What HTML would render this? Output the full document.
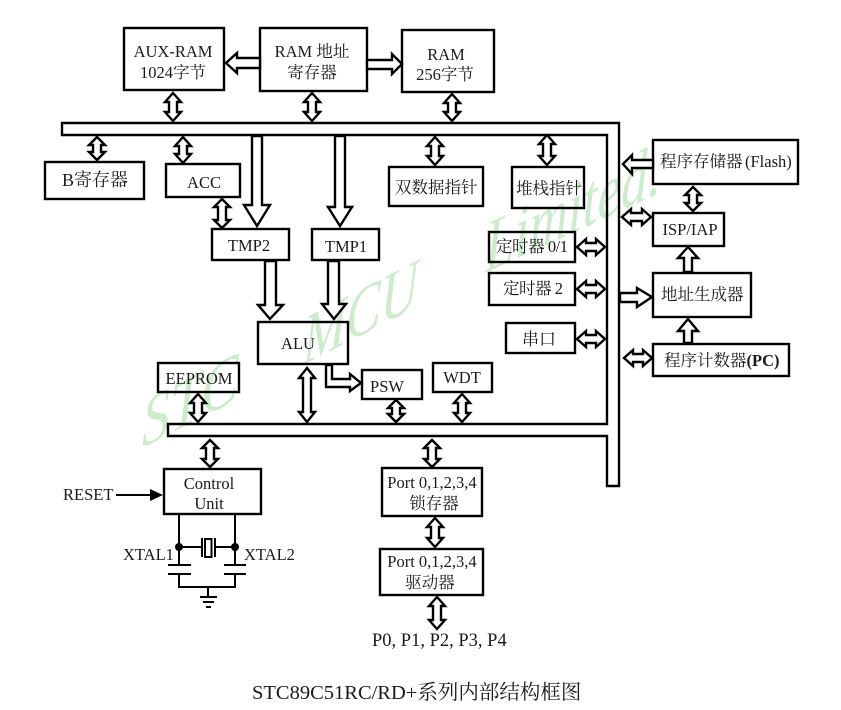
<!DOCTYPE html>
<html><head><meta charset="utf-8"><style>
html,body{margin:0;padding:0;background:#fff}
svg{display:block;filter:blur(.3px)}
text{font-family:"Liberation Serif","Noto Serif CJK SC",serif;font-size:16.5px;fill:#1a1a1a}
.b rect,.b polygon,.b polyline{fill:none;stroke:#000;stroke-width:2.4}
.a polygon{fill:#fff;stroke:#000;stroke-width:2.4}
.m{text-anchor:middle}
text.w{font-size:70px;font-style:italic;fill:#cdeccd}
</style></head><body>
<svg width="841" height="710" viewBox="0 0 841 710" xmlns="http://www.w3.org/2000/svg">
<rect width="841" height="710" fill="#fff"/>
<text class="w" transform="matrix(.8,-.41,0,1,142,448)">STC</text>
<text class="w" transform="matrix(.74,-.38,0,1,303,365)">MCU</text>
<text class="w" transform="matrix(.72,-.33,0,1,485,273)" style="font-size:74px">Limited.</text>

<g class="b">
<polygon points="62,123 619,123 619,486 607,486 607,436 168,436 168,424 607,424 607,135 62,135"/>
<rect x="124" y="28" width="100" height="62"/>
<rect x="260" y="28" width="107" height="63"/>
<rect x="402" y="30" width="92" height="62"/>
<rect x="45" y="162" width="99" height="37"/>
<rect x="166" y="164" width="74" height="33"/>
<rect x="389" y="167" width="94" height="39"/>
<rect x="512" y="167" width="72" height="41"/>
<rect x="212" y="229" width="77" height="31"/>
<rect x="312" y="229" width="67" height="31"/>
<rect x="489" y="232" width="86" height="30"/>
<rect x="489" y="273" width="86" height="32"/>
<rect x="506" y="323" width="69" height="30"/>
<rect x="258" y="322" width="90" height="42"/>
<rect x="158" y="363" width="81" height="29"/>
<rect x="362" y="370" width="60" height="29"/>
<rect x="433" y="363" width="59" height="29"/>
<rect x="653" y="140" width="145" height="44"/>
<rect x="653" y="213" width="71" height="33"/>
<rect x="653" y="273" width="98" height="44"/>
<rect x="653" y="344" width="136" height="32"/>
<rect x="164" y="469" width="97" height="45"/>
<rect x="382" y="468" width="100" height="48"/>
<rect x="380" y="549" width="103" height="46"/>
</g>

<g class="a">
<polygon points="173,93 181,102 177,102 177,112 181,112 173,121 165,112 169,112 169,102 165,102"/>
<polygon points="312,93 320,102 316,102 316,112 320,112 312,121 304,112 308,112 308,102 304,102"/>
<polygon points="452,94 460,103 456,103 456,112 460,112 452,121 444,112 448,112 448,103 444,103"/>
<polygon points="97,137 105,145 101,145 101,152 105,152 97,160 89,152 93,152 93,145 89,145"/>
<polygon points="183,137 191,146 187,146 187,154 191,154 183,163 175,154 179,154 179,146 175,146"/>
<polygon points="222,199 230,207 226,207 226,220 230,220 222,228 214,220 218,220 218,207 214,207"/>
<polygon points="435,137 443,146 439,146 439,156 443,156 435,165 427,156 431,156 431,146 427,146"/>
<polygon points="547,135 555,144 551,144 551,156 555,156 547,165 539,156 543,156 543,144 539,144"/>
<polygon points="693,187 701,195 697,195 697,203 701,203 693,211 685,203 689,203 689,195 685,195"/>
<polygon points="198,394 206,403 202,403 202,413 206,413 198,422 190,413 194,413 194,403 190,403"/>
<polygon points="307,368 315,378 311,378 311,412 315,412 307,422 299,412 303,412 303,378 299,378"/>
<polygon points="396,400 404,408 400,408 400,414 404,414 396,422 388,414 392,414 392,408 388,408"/>
<polygon points="462,394 470,403 466,403 466,413 470,413 462,422 454,413 458,413 458,403 454,403"/>
<polygon points="210,440 218,448 214,448 214,459 218,459 210,467 202,459 206,459 206,448 202,448"/>
<polygon points="432,440 440,448 436,448 436,459 440,459 432,467 424,459 428,459 428,448 424,448"/>
<polygon points="435,518 443,527 439,527 439,538 443,538 435,547 427,538 431,538 431,527 427,527"/>
<polygon points="437,597 445,606 441,606 441,620 445,620 437,629 429,620 433,620 433,606 429,606"/>
<polygon points="622,217 631,209 631,213 642,213 642,209 651,217 642,225 642,221 631,221 631,225"/>
<polygon points="577,247 586,239 586,243 596,243 596,239 605,247 596,255 596,251 586,251 586,255"/>
<polygon points="577,289 586,281 586,285 596,285 596,281 605,289 596,297 596,293 586,293 586,297"/>
<polygon points="577,339 586,331 586,335 596,335 596,331 605,339 596,347 596,343 586,343 586,347"/>
<polygon points="624,358 633,350 633,354 643,354 643,350 652,358 643,366 643,362 633,362 633,366"/>
<!-- single arrows -->
<polygon points="260,58 237,58 237,53 226,63 237,73 237,68 260,68"/>
<polygon points="367,60 392,60 392,54 402,64 392,74 392,69 367,69"/>
<polygon points="252,136 252,205 244,205 257,226 270,205 262,205 262,136"/>
<polygon points="335,136 335,207 328,207 340,226 352,207 345,207 345,136"/>
<polygon points="265,261 265,305 258,305 270,319 283,305 276,305 276,261"/>
<polygon points="328,261 328,304 322,304 334,319 346,304 339,304 339,261"/>
<polygon points="326,365 326,387 350,387 350,391 361,383 350,374 350,379 332,379 332,365"/>
<polygon points="653,160 632,160 632,155 623,164 632,174 632,168 653,168"/>
<polygon points="620,293 637,293 637,288 652,297 637,307 637,302 620,302"/>
<polygon points="684,272 684,258 678,258 688,247 698,258 692,258 692,272"/>
<polygon points="684,343 684,331 678,331 688,319 698,331 692,331 692,343"/>
</g>

<!-- control / xtal -->
<g fill="none" stroke="#000" stroke-width="2">
<path d="M179 515V565M235 515V565M168 565H191M224 565H246M168 574H191M224 574H246M179 574V587H235V574M208 587V597M200 597H217M203 602H214M206 607H211M180 547H201M215 547H235"/>
<path d="M202 538V557M215 538V557"/>
<rect x="205" y="539" width="6.500" height="18"/>
</g>
<circle cx="179" cy="547" r="4"/><circle cx="235" cy="547" r="4"/>
<path d="M116 495H151" stroke="#000" stroke-width="2"/>
<polygon points="150,489 163,495 150,501" fill="#000"/>

<text class="m" x="173" y="57">AUX-RAM</text>
<text class="m" x="173" y="78">1024字节</text>
<text class="m" x="312" y="57" xml:space="preserve">RAM 地址</text>
<text class="m" x="312" y="78">寄存器</text>
<text class="m" x="446" y="60">RAM</text>
<text class="m" x="445" y="80">256字节</text>
<text x="62" y="186" style="font-size:18px">B寄存器</text>
<text class="m" x="204" y="188">ACC</text>
<text x="395" y="193">双数据指针</text>
<text x="516" y="194">堆栈指针</text>
<text class="m" x="249" y="251">TMP2</text>
<text class="m" x="346" y="252">TMP1</text>
<text x="496" y="252" textLength="72" xml:space="preserve">定时器 0/1</text>
<text x="503" y="294" textLength="60" xml:space="preserve">定时器 2</text>
<text x="522" y="345" textLength="34" style="font-size:17px">串口</text>
<text class="m" x="298" y="349">ALU</text>
<text class="m" x="387" y="392">PSW</text>
<text class="m" x="462" y="383">WDT</text>
<text class="m" x="199" y="384">EEPROM</text>
<text x="660" y="167">程序存储器</text>
<text x="745" y="167">(Flash)</text>
<text class="m" x="690" y="235">ISP/IAP</text>
<text x="661" y="300">地址生成器</text>
<text x="664" y="366">程序计数器<tspan font-weight="bold">(PC)</tspan></text>
<text class="m" x="209" y="489">Control</text>
<text class="m" x="209" y="509">Unit</text>
<text x="63" y="500">RESET</text>
<text x="123" y="560">XTAL1</text>
<text x="244" y="560">XTAL2</text>
<text class="m" x="432" y="488">Port 0,1,2,3,4</text>
<text class="m" x="434" y="509">锁存器</text>
<text class="m" x="432" y="567">Port 0,1,2,3,4</text>
<text class="m" x="430" y="588">驱动器</text>
<text x="372" y="646" style="font-size:18.500px">P0, P1, P2, P3, P4</text>
<text x="252" y="699" style="font-size:20.500px">STC89C51RC/RD+系列内部结构框图</text>
</svg>
</body></html>
